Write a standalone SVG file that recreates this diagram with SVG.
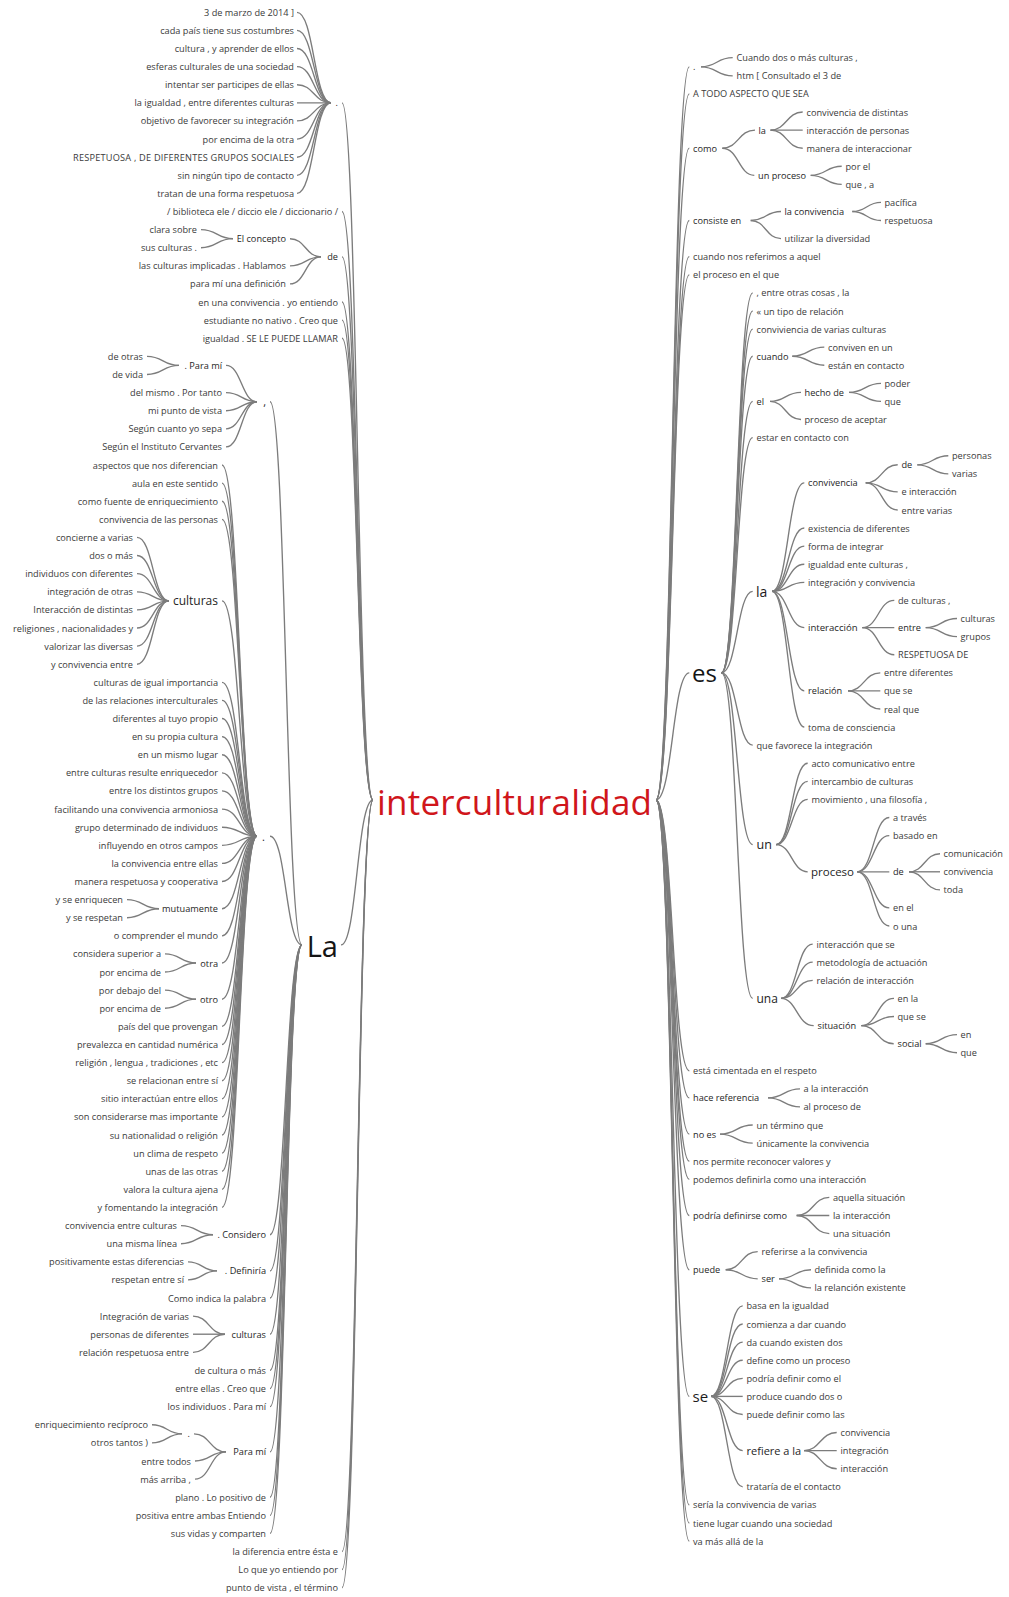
<svg xmlns="http://www.w3.org/2000/svg" width="1009" height="1597" viewBox="0 0 1009 1597">
<style>
.t{font-family:"Open Sans","Noto Sans","DejaVu Sans",sans-serif;font-size:9.2px;fill:#3a3a3a;dominant-baseline:central}
.e{text-anchor:end}
.n{fill:#262626}
.c path{fill:none;stroke:#7c7c7c;stroke-width:1.35}
</style>
<rect width="1009" height="1597" fill="#fff"/>
<g class="c" id="connectors">
<path d="M342 102.9C357.5 102.9 357.5 800 373 800"/>
<path d="M342 211.5C357.5 211.5 357.5 800 373 800"/>
<path d="M342 256.8C357.5 256.8 357.5 800 373 800"/>
<path d="M342 302C357.5 302 357.5 800 373 800"/>
<path d="M342 320.1C357.5 320.1 357.5 800 373 800"/>
<path d="M342 338.2C357.5 338.2 357.5 800 373 800"/>
<path d="M341 944.9C357 944.9 357 800 373 800"/>
<path d="M342 1551.5C357.5 1551.5 357.5 800 373 800"/>
<path d="M342 1569.6C357.5 1569.6 357.5 800 373 800"/>
<path d="M342 1587.7C357.5 1587.7 357.5 800 373 800"/>
<path d="M297 12.3C314 12.3 314 102.9 331 102.9"/>
<path d="M297 30.4C314 30.4 314 102.9 331 102.9"/>
<path d="M297 48.5C314 48.5 314 102.9 331 102.9"/>
<path d="M297 66.6C314 66.6 314 102.9 331 102.9"/>
<path d="M297 84.7C314 84.7 314 102.9 331 102.9"/>
<path d="M297 102.8C314 102.8 314 102.9 331 102.9"/>
<path d="M297 120.9C314 120.9 314 102.9 331 102.9"/>
<path d="M297 139.1C314 139.1 314 102.9 331 102.9"/>
<path d="M297 157.2C314 157.2 314 102.9 331 102.9"/>
<path d="M297 175.3C314 175.3 314 102.9 331 102.9"/>
<path d="M297 193.4C314 193.4 314 102.9 331 102.9"/>
<path d="M201 229.6C217 229.6 217 238.7 233 238.7"/>
<path d="M201 247.7C217 247.7 217 238.7 233 238.7"/>
<path d="M290 238.7C305.5 238.7 305.5 256.8 321 256.8"/>
<path d="M290 265.8C305.5 265.8 305.5 256.8 321 256.8"/>
<path d="M290 283.9C305.5 283.9 305.5 256.8 321 256.8"/>
<path d="M147 356.4C163 356.4 163 365.4 179 365.4"/>
<path d="M147 374.5C163 374.5 163 365.4 179 365.4"/>
<path d="M226 365.4C241.5 365.4 241.5 401.7 257 401.7"/>
<path d="M226 392.6C241.5 392.6 241.5 401.7 257 401.7"/>
<path d="M226 410.7C241.5 410.7 241.5 401.7 257 401.7"/>
<path d="M226 428.8C241.5 428.8 241.5 401.7 257 401.7"/>
<path d="M226 446.9C241.5 446.9 241.5 401.7 257 401.7"/>
<path d="M137 537.4C153 537.4 153 600.8 169 600.8"/>
<path d="M137 555.5C153 555.5 153 600.8 169 600.8"/>
<path d="M137 573.6C153 573.6 153 600.8 169 600.8"/>
<path d="M137 591.8C153 591.8 153 600.8 169 600.8"/>
<path d="M137 609.9C153 609.9 153 600.8 169 600.8"/>
<path d="M137 628C153 628 153 600.8 169 600.8"/>
<path d="M137 646.1C153 646.1 153 600.8 169 600.8"/>
<path d="M137 664.2C153 664.2 153 600.8 169 600.8"/>
<path d="M127 899.6C143 899.6 143 908.7 159 908.7"/>
<path d="M127 917.7C143 917.7 143 908.7 159 908.7"/>
<path d="M165 953.9C180.5 953.9 180.5 963 196 963"/>
<path d="M165 972C180.5 972 180.5 963 196 963"/>
<path d="M165 990.1C180.5 990.1 180.5 999.2 196 999.2"/>
<path d="M165 1008.2C180.5 1008.2 180.5 999.2 196 999.2"/>
<path d="M222 465C239.5 465 239.5 836.2 257 836.2"/>
<path d="M222 483.1C239.5 483.1 239.5 836.2 257 836.2"/>
<path d="M222 501.2C239.5 501.2 239.5 836.2 257 836.2"/>
<path d="M222 519.3C239.5 519.3 239.5 836.2 257 836.2"/>
<path d="M222 600.8C239.5 600.8 239.5 836.2 257 836.2"/>
<path d="M222 682.3C239.5 682.3 239.5 836.2 257 836.2"/>
<path d="M222 700.4C239.5 700.4 239.5 836.2 257 836.2"/>
<path d="M222 718.5C239.5 718.5 239.5 836.2 257 836.2"/>
<path d="M222 736.6C239.5 736.6 239.5 836.2 257 836.2"/>
<path d="M222 754.7C239.5 754.7 239.5 836.2 257 836.2"/>
<path d="M222 772.8C239.5 772.8 239.5 836.2 257 836.2"/>
<path d="M222 790.9C239.5 790.9 239.5 836.2 257 836.2"/>
<path d="M222 809.1C239.5 809.1 239.5 836.2 257 836.2"/>
<path d="M222 827.2C239.5 827.2 239.5 836.2 257 836.2"/>
<path d="M222 845.3C239.5 845.3 239.5 836.2 257 836.2"/>
<path d="M222 863.4C239.5 863.4 239.5 836.2 257 836.2"/>
<path d="M222 881.5C239.5 881.5 239.5 836.2 257 836.2"/>
<path d="M222 908.7C239.5 908.7 239.5 836.2 257 836.2"/>
<path d="M222 935.8C239.5 935.8 239.5 836.2 257 836.2"/>
<path d="M222 963C239.5 963 239.5 836.2 257 836.2"/>
<path d="M222 999.2C239.5 999.2 239.5 836.2 257 836.2"/>
<path d="M222 1026.4C239.5 1026.4 239.5 836.2 257 836.2"/>
<path d="M222 1044.5C239.5 1044.5 239.5 836.2 257 836.2"/>
<path d="M222 1062.6C239.5 1062.6 239.5 836.2 257 836.2"/>
<path d="M222 1080.7C239.5 1080.7 239.5 836.2 257 836.2"/>
<path d="M222 1098.8C239.5 1098.8 239.5 836.2 257 836.2"/>
<path d="M222 1116.9C239.5 1116.9 239.5 836.2 257 836.2"/>
<path d="M222 1135C239.5 1135 239.5 836.2 257 836.2"/>
<path d="M222 1153.1C239.5 1153.1 239.5 836.2 257 836.2"/>
<path d="M222 1171.2C239.5 1171.2 239.5 836.2 257 836.2"/>
<path d="M222 1189.3C239.5 1189.3 239.5 836.2 257 836.2"/>
<path d="M222 1207.4C239.5 1207.4 239.5 836.2 257 836.2"/>
<path d="M181 1225.6C197 1225.6 197 1234.7 213 1234.7"/>
<path d="M181 1243.7C197 1243.7 197 1234.7 213 1234.7"/>
<path d="M188 1261.8C202.5 1261.8 202.5 1270.9 217 1270.9"/>
<path d="M188 1279.9C202.5 1279.9 202.5 1270.9 217 1270.9"/>
<path d="M193 1316.1C209 1316.1 209 1334.2 225 1334.2"/>
<path d="M193 1334.2C209 1334.2 209 1334.2 225 1334.2"/>
<path d="M193 1352.3C209 1352.3 209 1334.2 225 1334.2"/>
<path d="M152 1424.7C167 1424.7 167 1433.8 182 1433.8"/>
<path d="M152 1442.9C167 1442.9 167 1433.8 182 1433.8"/>
<path d="M194 1433.8C210 1433.8 210 1451.9 226 1451.9"/>
<path d="M195 1461C210.5 1461 210.5 1451.9 226 1451.9"/>
<path d="M195 1479.1C210.5 1479.1 210.5 1451.9 226 1451.9"/>
<path d="M270 401.7C286 401.7 286 944.9 302 944.9"/>
<path d="M270 836.2C286 836.2 286 944.9 302 944.9"/>
<path d="M270 1234.7C286 1234.7 286 944.9 302 944.9"/>
<path d="M270 1270.9C286 1270.9 286 944.9 302 944.9"/>
<path d="M270 1298C286 1298 286 944.9 302 944.9"/>
<path d="M270 1334.2C286 1334.2 286 944.9 302 944.9"/>
<path d="M270 1370.4C286 1370.4 286 944.9 302 944.9"/>
<path d="M270 1388.5C286 1388.5 286 944.9 302 944.9"/>
<path d="M270 1406.6C286 1406.6 286 944.9 302 944.9"/>
<path d="M270 1451.9C286 1451.9 286 944.9 302 944.9"/>
<path d="M270 1497.2C286 1497.2 286 944.9 302 944.9"/>
<path d="M270 1515.3C286 1515.3 286 944.9 302 944.9"/>
<path d="M270 1533.4C286 1533.4 286 944.9 302 944.9"/>
<path d="M656 800C672.6 800 672.6 66.8 689.3 66.8"/>
<path d="M656 800C672.6 800 672.6 93.9 689.3 93.9"/>
<path d="M656 800C672.6 800 672.6 148.2 689.3 148.2"/>
<path d="M656 800C672.6 800 672.6 220.5 689.3 220.5"/>
<path d="M656 800C672.6 800 672.6 256.7 689.3 256.7"/>
<path d="M656 800C672.6 800 672.6 274.8 689.3 274.8"/>
<path d="M656 800C672.6 800 672.6 672.8 689.3 672.8"/>
<path d="M656 800C672.6 800 672.6 1070.7 689.3 1070.7"/>
<path d="M656 800C672.6 800 672.6 1097.9 689.3 1097.9"/>
<path d="M656 800C672.6 800 672.6 1134.1 689.3 1134.1"/>
<path d="M656 800C672.6 800 672.6 1161.2 689.3 1161.2"/>
<path d="M656 800C672.6 800 672.6 1179.3 689.3 1179.3"/>
<path d="M656 800C672.6 800 672.6 1215.5 689.3 1215.5"/>
<path d="M656 800C672.6 800 672.6 1269.7 689.3 1269.7"/>
<path d="M656 800C672.6 800 672.6 1396.4 689.3 1396.4"/>
<path d="M656 800C672.6 800 672.6 1504.9 689.3 1504.9"/>
<path d="M656 800C672.6 800 672.6 1523 689.3 1523"/>
<path d="M656 800C672.6 800 672.6 1541.1 689.3 1541.1"/>
<path d="M701 66.8C716.8 66.8 716.8 57.7 732.7 57.7"/>
<path d="M701 66.8C716.8 66.8 716.8 75.8 732.7 75.8"/>
<path d="M722.3 148.2C738.6 148.2 738.6 130.1 755 130.1"/>
<path d="M722.3 148.2C738.6 148.2 738.6 175.3 754.3 175.3"/>
<path d="M770.5 130.1C786.6 130.1 786.6 112 802.7 112"/>
<path d="M770.5 130.1C786.6 130.1 786.6 130.1 802.7 130.1"/>
<path d="M770.5 130.1C786.6 130.1 786.6 148.2 802.7 148.2"/>
<path d="M810.7 175.3C826.2 175.3 826.2 166.2 841.7 166.2"/>
<path d="M810.7 175.3C826.2 175.3 826.2 184.3 841.7 184.3"/>
<path d="M750.7 220.5C765.8 220.5 765.8 211.5 781 211.5"/>
<path d="M750.7 220.5C765.8 220.5 765.8 238.6 781 238.6"/>
<path d="M852.3 211.5C866.6 211.5 866.6 202.4 881 202.4"/>
<path d="M852.3 211.5C866.6 211.5 866.6 220.5 881 220.5"/>
<path d="M721.5 672.8C737.1 672.8 737.1 292.9 752.7 292.9"/>
<path d="M721.5 672.8C737.1 672.8 737.1 311 752.7 311"/>
<path d="M721.5 672.8C737.1 672.8 737.1 329.1 752.7 329.1"/>
<path d="M721.5 672.8C737.1 672.8 737.1 356.2 752.7 356.2"/>
<path d="M721.5 672.8C737.1 672.8 737.1 401.4 752.7 401.4"/>
<path d="M721.5 672.8C737.1 672.8 737.1 437.6 752.7 437.6"/>
<path d="M721.5 672.8C737.1 672.8 737.1 591.4 752.7 591.4"/>
<path d="M721.5 672.8C737.1 672.8 737.1 745.1 752.7 745.1"/>
<path d="M721.5 672.8C737.1 672.8 737.1 844.6 752.7 844.6"/>
<path d="M721.5 672.8C737.1 672.8 737.1 998.4 752.7 998.4"/>
<path d="M792.3 356.2C808.3 356.2 808.3 347.1 824.3 347.1"/>
<path d="M792.3 356.2C808.3 356.2 808.3 365.2 824.3 365.2"/>
<path d="M770 401.4C785.5 401.4 785.5 392.4 801 392.4"/>
<path d="M770 401.4C785.5 401.4 785.5 419.5 801 419.5"/>
<path d="M849 392.4C865 392.4 865 383.3 881 383.3"/>
<path d="M849 392.4C865 392.4 865 401.4 881 401.4"/>
<path d="M772 591.4C788.1 591.4 788.1 482.9 804.3 482.9"/>
<path d="M772 591.4C788.1 591.4 788.1 528 804.3 528"/>
<path d="M772 591.4C788.1 591.4 788.1 546.1 804.3 546.1"/>
<path d="M772 591.4C788.1 591.4 788.1 564.2 804.3 564.2"/>
<path d="M772 591.4C788.1 591.4 788.1 582.3 804.3 582.3"/>
<path d="M772 591.4C788.1 591.4 788.1 627.6 804.3 627.6"/>
<path d="M772 591.4C788.1 591.4 788.1 690.9 804.3 690.9"/>
<path d="M772 591.4C788.1 591.4 788.1 727 804.3 727"/>
<path d="M865.7 482.9C881.7 482.9 881.7 464.8 897.7 464.8"/>
<path d="M865.7 482.9C881.7 482.9 881.7 491.9 897.7 491.9"/>
<path d="M865.7 482.9C881.7 482.9 881.7 510 897.7 510"/>
<path d="M917.3 464.8C932.8 464.8 932.8 455.7 948.3 455.7"/>
<path d="M917.3 464.8C932.8 464.8 932.8 473.8 948.3 473.8"/>
<path d="M862.3 627.6C878.3 627.6 878.3 600.4 894.3 600.4"/>
<path d="M862.3 627.6C878.3 627.6 878.3 627.6 894.3 627.6"/>
<path d="M862.3 627.6C878.3 627.6 878.3 654.7 894.3 654.7"/>
<path d="M925.7 627.6C941.3 627.6 941.3 618.5 957 618.5"/>
<path d="M925.7 627.6C941.3 627.6 941.3 636.6 957 636.6"/>
<path d="M848 690.9C864.1 690.9 864.1 672.8 880.3 672.8"/>
<path d="M848 690.9C864.1 690.9 864.1 690.9 880.3 690.9"/>
<path d="M848 690.9C864.1 690.9 864.1 709 880.3 709"/>
<path d="M776 844.6C791.8 844.6 791.8 763.2 807.7 763.2"/>
<path d="M776 844.6C791.8 844.6 791.8 781.3 807.7 781.3"/>
<path d="M776 844.6C791.8 844.6 791.8 799.4 807.7 799.4"/>
<path d="M776 844.6C791.8 844.6 791.8 871.8 807.7 871.8"/>
<path d="M857.3 871.8C873.3 871.8 873.3 817.5 889.3 817.5"/>
<path d="M857.3 871.8C873.3 871.8 873.3 835.6 889.3 835.6"/>
<path d="M857.3 871.8C873.3 871.8 873.3 871.8 889.3 871.8"/>
<path d="M857.3 871.8C873.3 871.8 873.3 907.9 889.3 907.9"/>
<path d="M857.3 871.8C873.3 871.8 873.3 926 889.3 926"/>
<path d="M909 871.8C924.5 871.8 924.5 853.7 940 853.7"/>
<path d="M909 871.8C924.5 871.8 924.5 871.8 940 871.8"/>
<path d="M909 871.8C924.5 871.8 924.5 889.9 940 889.9"/>
<path d="M781 998.4C796.8 998.4 796.8 944.1 812.7 944.1"/>
<path d="M781 998.4C796.8 998.4 796.8 962.2 812.7 962.2"/>
<path d="M781 998.4C796.8 998.4 796.8 980.3 812.7 980.3"/>
<path d="M781 998.4C796.8 998.4 796.8 1025.6 813.7 1025.6"/>
<path d="M861.3 1025.6C877.5 1025.6 877.5 998.4 894 998.4"/>
<path d="M861.3 1025.6C877.5 1025.6 877.5 1016.5 894 1016.5"/>
<path d="M861.3 1025.6C877.5 1025.6 877.5 1043.7 893.7 1043.7"/>
<path d="M925.7 1043.7C941.3 1043.7 941.3 1034.6 957 1034.6"/>
<path d="M925.7 1043.7C941.3 1043.7 941.3 1052.7 957 1052.7"/>
<path d="M768 1097.9C784 1097.9 784 1088.8 800 1088.8"/>
<path d="M768 1097.9C784 1097.9 784 1106.9 800 1106.9"/>
<path d="M720 1134.1C736.3 1134.1 736.3 1125 752.7 1125"/>
<path d="M720 1134.1C736.3 1134.1 736.3 1143.1 752.7 1143.1"/>
<path d="M796.7 1215.5C813 1215.5 813 1197.4 829.3 1197.4"/>
<path d="M796.7 1215.5C813 1215.5 813 1215.5 829.3 1215.5"/>
<path d="M796.7 1215.5C813 1215.5 813 1233.6 829.3 1233.6"/>
<path d="M725.7 1269.7C741.7 1269.7 741.7 1251.6 757.7 1251.6"/>
<path d="M725.7 1269.7C741.7 1269.7 741.7 1278.8 757.7 1278.8"/>
<path d="M779 1278.8C795 1278.8 795 1269.7 811 1269.7"/>
<path d="M779 1278.8C795 1278.8 795 1287.8 811 1287.8"/>
<path d="M711 1396.4C726.8 1396.4 726.8 1305.9 742.7 1305.9"/>
<path d="M711 1396.4C726.8 1396.4 726.8 1324 742.7 1324"/>
<path d="M711 1396.4C726.8 1396.4 726.8 1342.1 742.7 1342.1"/>
<path d="M711 1396.4C726.8 1396.4 726.8 1360.2 742.7 1360.2"/>
<path d="M711 1396.4C726.8 1396.4 726.8 1378.3 742.7 1378.3"/>
<path d="M711 1396.4C726.8 1396.4 726.8 1396.4 742.7 1396.4"/>
<path d="M711 1396.4C726.8 1396.4 726.8 1414.5 742.7 1414.5"/>
<path d="M711 1396.4C726.8 1396.4 726.8 1450.6 742.7 1450.6"/>
<path d="M711 1396.4C726.8 1396.4 726.8 1486.8 742.7 1486.8"/>
<path d="M804 1450.6C820.3 1450.6 820.3 1432.5 836.7 1432.5"/>
<path d="M804 1450.6C820.3 1450.6 820.3 1450.6 836.7 1450.6"/>
<path d="M804 1450.6C820.3 1450.6 820.3 1468.7 836.7 1468.7"/>
</g>
<g id="root"><text class="t" x="377" y="801" style="font-size:35px;fill:#d0161b" textLength="275">interculturalidad</text></g>
<g id="n-dot-top"><text class="t e n" x="338" y="102.9">.</text></g>
<g id="l0"><text class="t e" x="294" y="12.3">3 de marzo de 2014 ]</text></g>
<g id="l1"><text class="t e" x="294" y="30.4">cada país tiene sus costumbres</text></g>
<g id="l2"><text class="t e" x="294" y="48.5">cultura , y aprender de ellos</text></g>
<g id="l3"><text class="t e" x="294" y="66.6">esferas culturales de una sociedad</text></g>
<g id="l4"><text class="t e" x="294" y="84.7">intentar ser participes de ellas</text></g>
<g id="l5"><text class="t e" x="294" y="102.8">la igualdad , entre diferentes culturas</text></g>
<g id="l6"><text class="t e" x="294" y="120.9">objetivo de favorecer su integración</text></g>
<g id="l7"><text class="t e" x="294" y="139.1">por encima de la otra</text></g>
<g id="l8"><text class="t e" x="294" y="157.2" textLength="221">RESPETUOSA , DE DIFERENTES GRUPOS SOCIALES</text></g>
<g id="l9"><text class="t e" x="294" y="175.3">sin ningún tipo de contacto</text></g>
<g id="l10"><text class="t e" x="294" y="193.4">tratan de una forma respetuosa</text></g>
<g id="l11"><text class="t e" x="338" y="211.5">/ biblioteca ele / diccio ele / diccionario /</text></g>
<g id="l12"><text class="t e" x="197" y="229.6">clara sobre</text></g>
<g id="l13"><text class="t e" x="197" y="247.7">sus culturas .</text></g>
<g id="n-el-concepto"><text class="t e n" x="286" y="238.7">El concepto</text></g>
<g id="n-de-left"><text class="t e n" x="338" y="256.8">de</text></g>
<g id="l14"><text class="t e" x="286" y="265.8">las culturas implicadas . Hablamos</text></g>
<g id="l15"><text class="t e" x="286" y="283.9">para mí una definición</text></g>
<g id="l16"><text class="t e" x="338" y="302">en una convivencia . yo entiendo</text></g>
<g id="l17"><text class="t e" x="338" y="320.1">estudiante no nativo . Creo que</text></g>
<g id="l18"><text class="t e" x="338" y="338.2">igualdad . SE LE PUEDE LLAMAR</text></g>
<g id="l19"><text class="t e" x="143" y="356.4">de otras</text></g>
<g id="l20"><text class="t e" x="143" y="374.5">de vida</text></g>
<g id="n-para-mi-1"><text class="t e n" x="222" y="365.4">. Para mí</text></g>
<g id="l21"><text class="t e" x="222" y="392.6">del mismo . Por tanto</text></g>
<g id="l22"><text class="t e" x="222" y="410.7">mi punto de vista</text></g>
<g id="l23"><text class="t e" x="222" y="428.8">Según cuanto yo sepa</text></g>
<g id="l24"><text class="t e" x="222" y="446.9">Según el Instituto Cervantes</text></g>
<g id="n-comma"><text class="t e n" x="266" y="401.7" style="font-size:11px">,</text></g>
<g id="l25"><text class="t e" x="218" y="465">aspectos que nos diferencian</text></g>
<g id="l26"><text class="t e" x="218" y="483.1">aula en este sentido</text></g>
<g id="l27"><text class="t e" x="218" y="501.2">como fuente de enriquecimiento</text></g>
<g id="l28"><text class="t e" x="218" y="519.3">convivencia de las personas</text></g>
<g id="l29"><text class="t e" x="133" y="537.4">concierne a varias</text></g>
<g id="l30"><text class="t e" x="133" y="555.5">dos o más</text></g>
<g id="l31"><text class="t e" x="133" y="573.6">individuos con diferentes</text></g>
<g id="l32"><text class="t e" x="133" y="591.8">integración de otras</text></g>
<g id="l33"><text class="t e" x="133" y="609.9">Interacción de distintas</text></g>
<g id="l34"><text class="t e" x="133" y="628">religiones , nacionalidades y</text></g>
<g id="l35"><text class="t e" x="133" y="646.1">valorizar las diversas</text></g>
<g id="l36"><text class="t e" x="133" y="664.2">y convivencia entre</text></g>
<g id="n-culturas-1"><text class="t e n" x="218" y="600.8" style="font-size:12px">culturas</text></g>
<g id="l37"><text class="t e" x="218" y="682.3">culturas de igual importancia</text></g>
<g id="l38"><text class="t e" x="218" y="700.4">de las relaciones interculturales</text></g>
<g id="l39"><text class="t e" x="218" y="718.5">diferentes al tuyo propio</text></g>
<g id="l40"><text class="t e" x="218" y="736.6">en su propia cultura</text></g>
<g id="l41"><text class="t e" x="218" y="754.7">en un mismo lugar</text></g>
<g id="l42"><text class="t e" x="218" y="772.8">entre culturas resulte enriquecedor</text></g>
<g id="l43"><text class="t e" x="218" y="790.9">entre los distintos grupos</text></g>
<g id="l44"><text class="t e" x="218" y="809.1">facilitando una convivencia armoniosa</text></g>
<g id="l45"><text class="t e" x="218" y="827.2">grupo determinado de individuos</text></g>
<g id="l46"><text class="t e" x="218" y="845.3">influyendo en otros campos</text></g>
<g id="l47"><text class="t e" x="218" y="863.4">la convivencia entre ellas</text></g>
<g id="l48"><text class="t e" x="218" y="881.5">manera respetuosa y cooperativa</text></g>
<g id="l49"><text class="t e" x="123" y="899.6">y se enriquecen</text></g>
<g id="l50"><text class="t e" x="123" y="917.7">y se respetan</text></g>
<g id="n-mutuamente"><text class="t e n" x="218" y="908.7">mutuamente</text></g>
<g id="l51"><text class="t e" x="218" y="935.8">o comprender el mundo</text></g>
<g id="l52"><text class="t e" x="161" y="953.9">considera superior a</text></g>
<g id="l53"><text class="t e" x="161" y="972">por encima de</text></g>
<g id="n-otra"><text class="t e n" x="218" y="963">otra</text></g>
<g id="l54"><text class="t e" x="161" y="990.1">por debajo del</text></g>
<g id="l55"><text class="t e" x="161" y="1008.2">por encima de</text></g>
<g id="n-otro"><text class="t e n" x="218" y="999.2">otro</text></g>
<g id="l56"><text class="t e" x="218" y="1026.4">país del que provengan</text></g>
<g id="l57"><text class="t e" x="218" y="1044.5">prevalezca en cantidad numérica</text></g>
<g id="l58"><text class="t e" x="218" y="1062.6">religión , lengua , tradiciones , etc</text></g>
<g id="l59"><text class="t e" x="218" y="1080.7">se relacionan entre sí</text></g>
<g id="l60"><text class="t e" x="218" y="1098.8">sitio interactúan entre ellos</text></g>
<g id="l61"><text class="t e" x="218" y="1116.9">son considerarse mas importante</text></g>
<g id="l62"><text class="t e" x="218" y="1135">su nationalidad o religión</text></g>
<g id="l63"><text class="t e" x="218" y="1153.1">un clima de respeto</text></g>
<g id="l64"><text class="t e" x="218" y="1171.2">unas de las otras</text></g>
<g id="l65"><text class="t e" x="218" y="1189.3">valora la cultura ajena</text></g>
<g id="l66"><text class="t e" x="218" y="1207.4">y fomentando la integración</text></g>
<g id="n-dot-bullet"><text class="t e n" x="265" y="836.2" style="font-size:11px">.</text></g>
<g id="l67"><text class="t e" x="177" y="1225.6">convivencia entre culturas</text></g>
<g id="l68"><text class="t e" x="177" y="1243.7">una misma línea</text></g>
<g id="n-considero"><text class="t e n" x="266" y="1234.7">. Considero</text></g>
<g id="l69"><text class="t e" x="184" y="1261.8">positivamente estas diferencias</text></g>
<g id="l70"><text class="t e" x="184" y="1279.9">respetan entre sí</text></g>
<g id="n-definiria"><text class="t e n" x="266" y="1270.9">. Definiría</text></g>
<g id="l71"><text class="t e" x="266" y="1298">Como indica la palabra</text></g>
<g id="l72"><text class="t e" x="189" y="1316.1">Integración de varias</text></g>
<g id="l73"><text class="t e" x="189" y="1334.2">personas de diferentes</text></g>
<g id="l74"><text class="t e" x="189" y="1352.3">relación respetuosa entre</text></g>
<g id="n-culturas-2"><text class="t e n" x="266" y="1334.2">culturas</text></g>
<g id="l75"><text class="t e" x="266" y="1370.4">de cultura o más</text></g>
<g id="l76"><text class="t e" x="266" y="1388.5">entre ellas . Creo que</text></g>
<g id="l77"><text class="t e" x="266" y="1406.6">los individuos . Para mí</text></g>
<g id="l78"><text class="t e" x="148" y="1424.7">enriquecimiento recíproco</text></g>
<g id="l79"><text class="t e" x="148" y="1442.9">otros tantos )</text></g>
<g id="n-dot-pm"><text class="t e n" x="190" y="1433.8">.</text></g>
<g id="l80"><text class="t e" x="191" y="1461">entre todos</text></g>
<g id="l81"><text class="t e" x="191" y="1479.1">más arriba ,</text></g>
<g id="n-para-mi-2"><text class="t e n" x="266" y="1451.9">Para mí</text></g>
<g id="l82"><text class="t e" x="266" y="1497.2">plano . Lo positivo de</text></g>
<g id="l83"><text class="t e" x="266" y="1515.3">positiva entre ambas Entiendo</text></g>
<g id="l84"><text class="t e" x="266" y="1533.4">sus vidas y comparten</text></g>
<g id="n-La"><text class="t e" x="338" y="945.5" style="font-size:29px;fill:#151515">La</text></g>
<g id="l85"><text class="t e" x="338" y="1551.5">la diferencia entre ésta e</text></g>
<g id="l86"><text class="t e" x="338" y="1569.6">Lo que yo entiendo por</text></g>
<g id="l87"><text class="t e" x="338" y="1587.7">punto de vista , el término</text></g>
<g id="n-dot-right"><text class="t n" x="693" y="66.8">.</text></g>
<g id="r0"><text class="t" x="736.5" y="57.7">Cuando dos o más culturas ,</text></g>
<g id="r1"><text class="t" x="736.5" y="75.8">htm [ Consultado el 3 de</text></g>
<g id="r2"><text class="t" x="693" y="93.9">A TODO ASPECTO QUE SEA</text></g>
<g id="n-como"><text class="t n" x="693" y="148.2">como</text></g>
<g id="n-la-como"><text class="t n" x="758.5" y="130.1">la</text></g>
<g id="r3"><text class="t" x="806.5" y="112">convivencia de distintas</text></g>
<g id="r4"><text class="t" x="806.5" y="130.1">interacción de personas</text></g>
<g id="r5"><text class="t" x="806.5" y="148.2">manera de interaccionar</text></g>
<g id="n-un-proceso"><text class="t n" x="758" y="175.3">un proceso</text></g>
<g id="r6"><text class="t" x="845.5" y="166.2">por el</text></g>
<g id="r7"><text class="t" x="845.5" y="184.3">que , a</text></g>
<g id="n-consiste-en"><text class="t n" x="693" y="220.5">consiste en</text></g>
<g id="n-la-convivencia"><text class="t n" x="784.5" y="211.5">la convivencia</text></g>
<g id="r8"><text class="t" x="884.5" y="202.4">pacífica</text></g>
<g id="r9"><text class="t" x="884.5" y="220.5">respetuosa</text></g>
<g id="r10"><text class="t" x="784.5" y="238.6">utilizar la diversidad</text></g>
<g id="r11"><text class="t" x="693" y="256.7">cuando nos referimos a aquel</text></g>
<g id="r12"><text class="t" x="693" y="274.8">el proceso en el que</text></g>
<g id="n-es"><text class="t" x="692" y="672.8" style="font-size:24px;fill:#151515">es</text></g>
<g id="r13"><text class="t" x="756.5" y="292.9">, entre otras cosas , la</text></g>
<g id="r14"><text class="t" x="756.5" y="311">« un tipo de relación</text></g>
<g id="r15"><text class="t" x="756.5" y="329.1">conviviencia de varias culturas</text></g>
<g id="n-cuando"><text class="t n" x="756.5" y="356.2">cuando</text></g>
<g id="r16"><text class="t" x="828" y="347.1">conviven en un</text></g>
<g id="r17"><text class="t" x="828" y="365.2">están en contacto</text></g>
<g id="n-el"><text class="t n" x="756.5" y="401.4">el</text></g>
<g id="n-hecho-de"><text class="t n" x="804.5" y="392.4">hecho de</text></g>
<g id="r18"><text class="t" x="884.5" y="383.3">poder</text></g>
<g id="r19"><text class="t" x="884.5" y="401.4">que</text></g>
<g id="r20"><text class="t" x="804.5" y="419.5">proceso de aceptar</text></g>
<g id="r21"><text class="t" x="756.5" y="437.6">estar en contacto con</text></g>
<g id="n-la-big"><text class="t" x="756" y="591.4" style="font-size:14px;fill:#1c1c1c">la</text></g>
<g id="n-convivencia"><text class="t n" x="808" y="482.9">convivencia</text></g>
<g id="n-de-conv"><text class="t n" x="901.5" y="464.8">de</text></g>
<g id="r22"><text class="t" x="952" y="455.7">personas</text></g>
<g id="r23"><text class="t" x="952" y="473.8">varias</text></g>
<g id="r24"><text class="t" x="901.5" y="491.9">e interacción</text></g>
<g id="r25"><text class="t" x="901.5" y="510">entre varias</text></g>
<g id="r26"><text class="t" x="808" y="528">existencia de diferentes</text></g>
<g id="r27"><text class="t" x="808" y="546.1">forma de integrar</text></g>
<g id="r28"><text class="t" x="808" y="564.2">igualdad ente culturas ,</text></g>
<g id="r29"><text class="t" x="808" y="582.3">integración y convivencia</text></g>
<g id="n-interaccion"><text class="t n" x="808" y="627.6" style="font-size:9.6px">interacción</text></g>
<g id="r30"><text class="t" x="898" y="600.4">de culturas ,</text></g>
<g id="n-entre"><text class="t n" x="898" y="627.6">entre</text></g>
<g id="r31"><text class="t" x="960.5" y="618.5">culturas</text></g>
<g id="r32"><text class="t" x="960.5" y="636.6">grupos</text></g>
<g id="r33"><text class="t" x="898" y="654.7">RESPETUOSA DE</text></g>
<g id="n-relacion"><text class="t n" x="808" y="690.9">relación</text></g>
<g id="r34"><text class="t" x="884" y="672.8">entre diferentes</text></g>
<g id="r35"><text class="t" x="884" y="690.9">que se</text></g>
<g id="r36"><text class="t" x="884" y="709">real que</text></g>
<g id="r37"><text class="t" x="808" y="727">toma de consciencia</text></g>
<g id="r38"><text class="t" x="756.5" y="745.1">que favorece la integración</text></g>
<g id="n-un"><text class="t" x="756.5" y="844.6" style="font-size:12.5px;fill:#1c1c1c">un</text></g>
<g id="r39"><text class="t" x="811.5" y="763.2">acto comunicativo entre</text></g>
<g id="r40"><text class="t" x="811.5" y="781.3">intercambio de culturas</text></g>
<g id="r41"><text class="t" x="811.5" y="799.4">movimiento , una filosofía ,</text></g>
<g id="n-proceso"><text class="t" x="811" y="871.8" style="font-size:11.5px;fill:#262626">proceso</text></g>
<g id="r42"><text class="t" x="893" y="817.5">a través</text></g>
<g id="r43"><text class="t" x="893" y="835.6">basado en</text></g>
<g id="n-de-proceso"><text class="t n" x="893" y="871.8">de</text></g>
<g id="r44"><text class="t" x="943.5" y="853.7">comunicación</text></g>
<g id="r45"><text class="t" x="943.5" y="871.8">convivencia</text></g>
<g id="r46"><text class="t" x="943.5" y="889.9">toda</text></g>
<g id="r47"><text class="t" x="893" y="907.9">en el</text></g>
<g id="r48"><text class="t" x="893" y="926">o una</text></g>
<g id="n-una"><text class="t" x="756.5" y="998.4" style="font-size:12px;fill:#1c1c1c">una</text></g>
<g id="r49"><text class="t" x="816.5" y="944.1">interacción que se</text></g>
<g id="r50"><text class="t" x="816.5" y="962.2">metodología de actuación</text></g>
<g id="r51"><text class="t" x="816.5" y="980.3">relación de interacción</text></g>
<g id="n-situacion"><text class="t n" x="817.5" y="1025.6">situación</text></g>
<g id="r52"><text class="t" x="897.5" y="998.4">en la</text></g>
<g id="r53"><text class="t" x="897.5" y="1016.5">que se</text></g>
<g id="n-social"><text class="t n" x="897.5" y="1043.7">social</text></g>
<g id="r54"><text class="t" x="960.5" y="1034.6">en</text></g>
<g id="r55"><text class="t" x="960.5" y="1052.7">que</text></g>
<g id="r56"><text class="t" x="693" y="1070.7">está cimentada en el respeto</text></g>
<g id="n-hace-referencia"><text class="t n" x="693" y="1097.9">hace referencia</text></g>
<g id="r57"><text class="t" x="803.5" y="1088.8">a la interacción</text></g>
<g id="r58"><text class="t" x="803.5" y="1106.9">al proceso de</text></g>
<g id="n-no-es"><text class="t n" x="693" y="1134.1">no es</text></g>
<g id="r59"><text class="t" x="756.5" y="1125">un término que</text></g>
<g id="r60"><text class="t" x="756.5" y="1143.1">únicamente la convivencia</text></g>
<g id="r61"><text class="t" x="693" y="1161.2">nos permite reconocer valores y</text></g>
<g id="r62"><text class="t" x="693" y="1179.3">podemos definirla como una interacción</text></g>
<g id="n-podria"><text class="t n" x="693" y="1215.5">podría definirse como</text></g>
<g id="r63"><text class="t" x="833" y="1197.4">aquella situación</text></g>
<g id="r64"><text class="t" x="833" y="1215.5">la interacción</text></g>
<g id="r65"><text class="t" x="833" y="1233.6">una situación</text></g>
<g id="n-puede"><text class="t n" x="693" y="1269.7">puede</text></g>
<g id="r66"><text class="t" x="761.5" y="1251.6">referirse a la convivencia</text></g>
<g id="n-ser"><text class="t n" x="761.5" y="1278.8">ser</text></g>
<g id="r67"><text class="t" x="814.5" y="1269.7">definida como la</text></g>
<g id="r68"><text class="t" x="814.5" y="1287.8">la relanción existente</text></g>
<g id="n-se"><text class="t" x="692.5" y="1396.4" style="font-size:15px;fill:#1c1c1c">se</text></g>
<g id="r69"><text class="t" x="746.5" y="1305.9">basa en la igualdad</text></g>
<g id="r70"><text class="t" x="746.5" y="1324">comienza a dar cuando</text></g>
<g id="r71"><text class="t" x="746.5" y="1342.1">da cuando existen dos</text></g>
<g id="r72"><text class="t" x="746.5" y="1360.2">define como un proceso</text></g>
<g id="r73"><text class="t" x="746.5" y="1378.3">podría definir como el</text></g>
<g id="r74"><text class="t" x="746.5" y="1396.4">produce cuando dos o</text></g>
<g id="r75"><text class="t" x="746.5" y="1414.5">puede definir como las</text></g>
<g id="n-refiere"><text class="t" x="746.5" y="1450.6" style="font-size:11px;fill:#262626">refiere a la</text></g>
<g id="r76"><text class="t" x="840.5" y="1432.5">convivencia</text></g>
<g id="r77"><text class="t" x="840.5" y="1450.6">integración</text></g>
<g id="r78"><text class="t" x="840.5" y="1468.7">interacción</text></g>
<g id="r79"><text class="t" x="746.5" y="1486.8">trataría de el contacto</text></g>
<g id="r80"><text class="t" x="693" y="1504.9">sería la convivencia de varias</text></g>
<g id="r81"><text class="t" x="693" y="1523">tiene lugar cuando una sociedad</text></g>
<g id="r82"><text class="t" x="693" y="1541.1">va más allá de la</text></g>
</svg>
